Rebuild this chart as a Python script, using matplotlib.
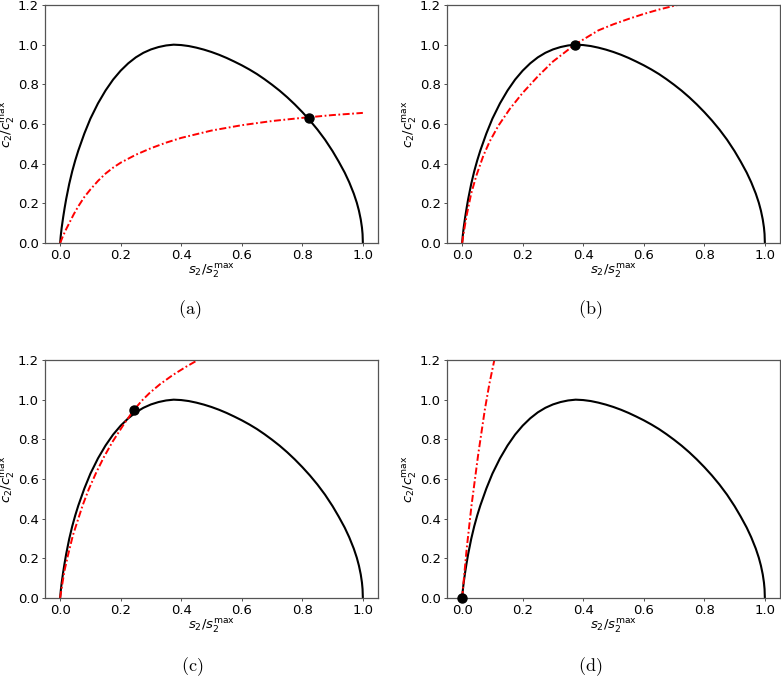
# four-panel plot: c2/c2max curve with red uptake curves and their intersection

import numpy as np
import matplotlib.pyplot as plt

# black curve
s_black = [0, 0.002, 0.005, 0.01, 0.015, 0.02, 0.03, 0.04, 0.05, 0.06, 0.08, 0.1,
           0.125, 0.15, 0.175, 0.2, 0.225, 0.25, 0.275, 0.3, 0.325, 0.35, 0.375,
           0.4, 0.425, 0.45, 0.475, 0.5, 0.525, 0.55, 0.575, 0.6, 0.625, 0.65,
           0.675, 0.7, 0.725, 0.75, 0.775, 0.8, 0.825, 0.85, 0.875, 0.9, 0.92,
           0.94, 0.955, 0.97, 0.98, 0.987, 0.993, 0.997, 0.999, 1.0]
c_black = [0, 0.036, 0.076, 0.13, 0.178, 0.222, 0.298, 0.362, 0.417, 0.466, 0.552, 0.627,
           0.704, 0.769, 0.824, 0.869, 0.906, 0.936, 0.959, 0.976, 0.988, 0.996, 1.0,
           0.998, 0.993, 0.985, 0.975, 0.963, 0.949, 0.933, 0.915, 0.896, 0.875, 0.852,
           0.826, 0.798, 0.768, 0.735, 0.699, 0.660, 0.618, 0.572, 0.521, 0.463, 0.411,
           0.355, 0.306, 0.249, 0.203, 0.163, 0.119, 0.078, 0.045, 0]

# red curves, one per panel
s_red_a = [0, 0.01, 0.02, 0.03, 0.045, 0.06, 0.08, 0.1, 0.125, 0.15, 0.175, 0.2, 0.25, 0.3,
           0.35, 0.4, 0.5, 0.6, 0.7, 0.8, 0.9, 1.0]
c_red_a = [0, 0.037, 0.07, 0.10, 0.145, 0.185, 0.232, 0.27, 0.313, 0.35, 0.38, 0.405, 0.445, 0.478,
           0.506, 0.53, 0.567, 0.594, 0.615, 0.631, 0.645, 0.656]

s_red_b = [0, 0.005, 0.015, 0.03, 0.047, 0.07, 0.091, 0.12, 0.157, 0.2, 0.25, 0.3, 0.372,
           0.45, 0.5, 0.55, 0.6, 0.65, 0.7, 0.75]
c_red_b = [0, 0.05, 0.14, 0.25, 0.34, 0.44, 0.512, 0.592, 0.675, 0.757, 0.84, 0.915, 1.0,
           1.072, 1.103, 1.13, 1.155, 1.177, 1.196, 1.213]

s_red_c = [0, 0.005, 0.014, 0.025, 0.042, 0.06, 0.075, 0.095, 0.119, 0.145, 0.174, 0.21,
           0.242, 0.27, 0.295, 0.33, 0.372, 0.415, 0.455, 0.49]
c_red_c = [0, 0.05, 0.135, 0.21, 0.315, 0.40, 0.47, 0.55, 0.632, 0.712, 0.79, 0.875,
           0.945, 0.995, 1.033, 1.078, 1.124, 1.165, 1.2, 1.228]

s_red_d = [0, 0.005, 0.015, 0.031, 0.053, 0.075, 0.09, 0.106, 0.115]
c_red_d = [0, 0.085, 0.248, 0.467, 0.723, 0.95, 1.08, 1.197, 1.26]

# intersection points
dots = [(0.821, 0.630), (0.372, 1.0), (0.243, 0.947), (0.0, 0.0)]

reds = [(s_red_a, c_red_a), (s_red_b, c_red_b), (s_red_c, c_red_c), (s_red_d, c_red_d)]
captions = ['(a)', '(b)', '(c)', '(d)']

W, H = 781, 678
fig = plt.figure(figsize=(W / 100, H / 100), dpi=100)

# axes boxes in pixels: left, top, right, bottom
boxes = [(45, 5, 378, 243), (447, 5, 780, 243), (45, 360, 378, 598), (447, 360, 780, 598)]
cap_pos = [(190, 310), (590, 310), (192, 667), (590, 667)]

for i in range(4):
    l, t, r, b = boxes[i]
    ax = fig.add_axes([l / W, (H - b) / H, (r - l) / W, (b - t) / H])
    ax.plot(s_black, c_black, color='black', lw=1.5)
    ax.plot(reds[i][0], reds[i][1], color='red', lw=1.4, linestyle=(0, (3.6, 1.3, 0.9, 1.3)))
    ax.plot(dots[i][0], dots[i][1], 'o', color='black', ms=6.5, clip_on=False, zorder=5)
    ax.set_xlim(-0.05, 1.05)
    ax.set_ylim(0, 1.2)
    ax.set_xticks(np.arange(0, 1.01, 0.2))
    ax.set_yticks(np.arange(0, 1.21, 0.2))
    ax.tick_params(labelsize=9.5, length=2.5, width=0.6, pad=2, colors='#333333', labelcolor='black')
    for sp in ax.spines.values():
        sp.set_color('#555555')
        sp.set_linewidth(0.9)
    ax.set_xlabel(r'$s_2/s_2^{\mathrm{max}}$', fontsize=9.5, labelpad=0.5)
    ax.set_ylabel(r'$c_2/c_2^{\mathrm{max}}$', fontsize=9.5)
    ax.yaxis.set_label_coords(-0.085, 0.5)
    fig.text(cap_pos[i][0] / W, 1 - cap_pos[i][1] / H, r'$\mathrm{' + captions[i] + '}$',
             math_fontfamily='cm', fontsize=13, ha='center', va='center')

fig.savefig('out.png', dpi=100)
